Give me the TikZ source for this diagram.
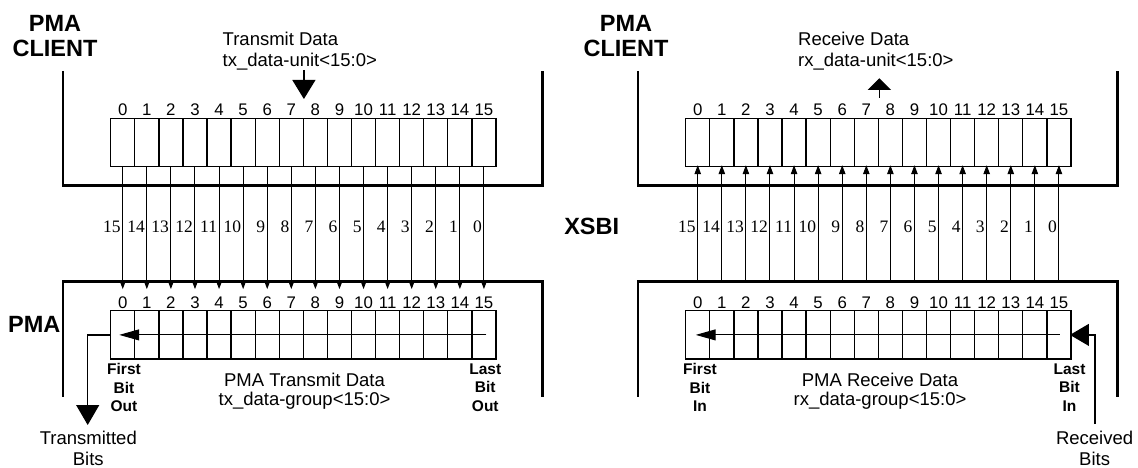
\documentclass[tikz,border=0pt]{standalone}
\usepackage{fontspec}
\setmainfont{Liberation Sans}
\newfontfamily\bitnumfont{Liberation Serif}
\usetikzlibrary{arrows.meta}

\begin{document}
\begin{tikzpicture}[
  x=1pt, y=-1pt,
  frame/.style={line width=2.6pt, line join=miter},
  cellbox/.style={draw, line width=1.3pt, minimum width={\cw*1pt}, minimum height=48.4pt, inner sep=0pt, outer sep=0pt},
  digit/.style={font=\fontsize{16.8}{18}\selectfont, inner sep=0pt, text height=12pt, text depth=0pt},
  bitnum/.style={font=\bitnumfont\fontsize{17.5}{18}\selectfont, inner sep=1.8pt, anchor=east},
  bitline/.style={line width=1pt, -{Triangle[length=9pt,width=6.5pt]}},
  shiftarrow/.style={line width=1pt, -{Triangle[length=20pt,width=11pt]}},
  bigarrow/.style={line width=1.2pt, -{Triangle[length=19pt,width=23pt]}},
  lbl/.style={font=\fontsize{18.5}{21}\selectfont, inner sep=0pt},
  grouplbl/.style={font=\fontsize{18.5}{19.5}\selectfont, inner sep=0pt, align=center},
  bigbold/.style={font=\bfseries\fontsize{23.5}{25.6}\selectfont, inner sep=0pt},
  smallbold/.style={font=\bfseries\fontsize{15.5}{18.5}\selectfont, inner sep=0pt, align=center},
]
\useasboundingbox (0,0) rectangle (1138,468);

\def\cw{24.08}   % cell width
\def\cx{110.7}   % left edge of cell 0
\def\dx{575}     % receive panel is the transmit panel moved right

% --- both panels: frames, registers, bit numbers
\foreach \pn/\sx in {tx/0, rx/\dx} {
  \begin{scope}[xshift=\sx]
    \draw[frame] (63,71) -- (63,185.7) -- (542.3,185.7) -- (542.3,71);
    \draw[frame] (63,396.5) -- (63,281.7) -- (542.3,281.7) -- (542.3,396.5);
    \foreach \i [evaluate=\i as \xx using \cx+(\i+0.5)*\cw] in {0,...,15} {
      \pgfmathtruncatemacro{\bn}{15-\i}
      \node[cellbox] (\pn u\i) at (\xx,142.5) {};
      \node[digit] (\pn ud\i) at (\xx,110) {\i};
      \node[cellbox] (\pn g\i) at (\xx,334.9) {};
      \node[digit] (\pn gd\i) at (\xx,302.3) {\i};
      \node[bitnum] (\pn n\i) at (\xx,226.7) {\bn};
      \coordinate (\pn b\i) at (\xx,281.7);
    }
  \end{scope}
}

% --- side labels
\node[bigbold, align=center] (txclient) at (55,36.2) {PMA\\CLIENT};
\node[bigbold, align=center] (rxclient) at (626,36.2) {PMA\\CLIENT};
\node[bigbold, anchor=east] (txpma) at (60.5,324) {PMA};
\node[bigbold] (xsbi) at (591.7,226.7) {XSBI};

% --- transmit panel
\node[lbl, align=left, anchor=west] (txunit) at (222.5,51) {Transmit Data\\tx\_data-unit<15:0>};
\coordinate (txstem) at (303.9,70);
\coordinate (txin) at (303.9,99);
\draw[bigarrow] (txstem) -- (txin);
\foreach \i in {0,...,15}
  \draw[bitline, shorten >=7pt] (txu\i.south) -- (txgd\i.north);
\draw[shiftarrow, shorten <=-2.5pt, shorten >=-3.5pt] (txg15.center) -- (txg0.center);
\coordinate (txout) at (87.7,425);
\draw[bigarrow, -{Triangle[length=20pt,width=23pt]}] (txg0.west) -| (txout);
\node[smallbold] (txfirst) at (124,387.5) {First\\Bit\\Out};
\node[smallbold] (txlast) at (485.3,387.5) {Last\\Bit\\Out};
\node[grouplbl] (txgroup) at (304.5,391) {PMA Transmit Data\\tx\_data-group<15:0>};
\node[lbl, align=center] (txbits) at (88.3,448.3) {Transmitted\\Bits};

% --- receive panel
\node[lbl, align=left, anchor=west] (rxunit) at (798,51) {Receive Data\\rx\_data-unit<15:0>};
\coordinate (rxstem) at (879.3,97.7);
\coordinate (rxout) at (879.3,78.3);
\draw[bigarrow, -{Triangle[length=11.7pt,width=23.3pt]}] (rxstem) -- (rxout);
\foreach \i in {0,...,15}
  \draw[bitline, shorten >=-1.5pt] (rxb\i) -- (rxu\i.south);
\draw[shiftarrow, shorten <=-1pt, shorten >=-2pt] (rxg15.center) -- (rxg0.center);
\coordinate (rxin) at (1095,424);
\draw[bigarrow, -{Triangle[length=19pt,width=22pt]}, shorten >=-1pt] (rxin) |- (rxg15.east);
\node[smallbold] (rxfirst) at (700,387.5) {First\\Bit\\In};
\node[smallbold] (rxlast) at (1069.5,387.5) {Last\\Bit\\In};
\node[grouplbl] (rxgroup) at (880,391) {PMA Receive Data\\rx\_data-group<15:0>};
\node[lbl, align=center] (rxbits) at (1094.6,448.3) {Received\\Bits};
\end{tikzpicture}
\end{document}
